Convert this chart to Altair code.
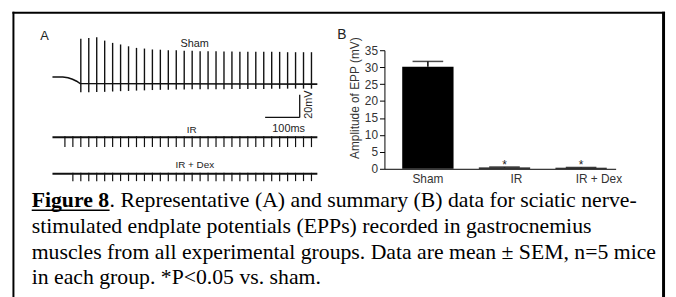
import altair as alt
import pandas as pd

# ---------------- Panel B (summary) ----------------
groups = ["Sham", "IR", "IR + Dex"]
epp_mean = [30.1, 0.4, 0.3]
epp_sem = [1.6, 0.1, 0.1]
sig_star = ["", "*", "*"]
y_ticks = [0, 5, 10, 15, 20, 25, 30, 35]

# ---------------- Panel A (representative traces) ----------------
# Sham: spike times (ms), peaks and troughs (mV, relative to baseline)
sham_spike_t = [82, 105, 128, 151, 174, 197, 220, 243, 266, 289, 312, 335, 358, 381, 404,
                427, 450, 473, 496, 519, 542, 565, 588, 611, 634, 657, 680, 703, 726, 749]
sham_peak_mv = [40.0, 40.6, 41.2, 38.3, 36.3, 34.9, 33.3, 31.9, 31.3, 30.5, 30.3, 29.8, 29.8, 29.4, 29.4,
                29.0, 29.0, 29.0, 28.7, 28.7, 28.5, 28.5, 28.5, 28.4, 28.4, 28.4, 28.1, 28.1, 28.1, 28.1]
sham_trough_mv = [-7.2, -7.2, -7.0, -6.8, -6.5, -6.2, -6.0, -5.7, -5.5, -5.2, -5.0, -4.9, -4.8, -4.7, -4.6,
                  -4.5, -4.5, -4.4, -4.4, -4.3, -4.3, -4.2, -4.2, -4.2, -4.1, -4.1, -4.0, -4.0, -4.0, -4.0]
sham_base_t = [0, 30, 45, 58, 70, 80, 766]
sham_base_mv = [6.3, 6.2, 5.6, 4.3, 2.6, 0.5, 0.0]

# IR: small downward stimulus deflections
ir_tick_t = [36, 59, 82, 105, 128, 151, 174, 197, 220, 243, 266, 289, 312, 335, 358, 381,
             404, 427, 450, 473, 496, 519, 542, 565, 588, 611, 634, 657, 680, 703, 726, 749]
ir_tick_mv = [-8.7, -8.7, -8.7, -8.7, -8.7, -8.7, -8.7, -8.7, -8.7, -8.7, -8.7, -8.7, -8.7, -8.7, -8.7, -8.7,
              -8.7, -8.7, -8.7, -8.7, -8.7, -8.7, -8.7, -8.7, -8.7, -8.7, -8.7, -8.7, -8.7, -8.7, -8.7, -8.7]
ir_base_t = [0, 766]
ir_base_mv = [0.0, 0.0]

# IR + Dex
dex_tick_t = [59, 82, 105, 128, 151, 174, 197, 220, 243, 266, 289, 312, 335, 358, 381, 404,
              427, 450, 473, 496, 519, 542, 565, 588, 611, 634, 657, 680, 703, 726, 749]
dex_tick_mv = [-6.5, -6.5, -6.5, -6.5, -6.5, -6.5, -6.5, -6.5, -6.5, -6.5, -6.5, -6.5, -6.5, -6.5, -6.5, -6.5,
               -6.5, -6.5, -6.5, -6.5, -6.5, -6.5, -6.5, -6.5, -6.5, -6.5, -6.5, -6.5, -6.5, -6.5, -6.5]
dex_base_t = [0, 766]
dex_base_mv = [0.0, 0.0]

# scale bar: 100 ms, 20 mV
scalebar_t = [715, 615]
scalebar_t2 = [715, 715]
scalebar_mv = [-9.3, -29.3]
scalebar_mv2 = [-29.3, -29.3]

caption_lines = [
    "stimulated endplate potentials (EPPs) recorded in gastrocnemius",
    "muscles from all experimental groups. Data are mean \u00b1 SEM, n=5 mice",
    "in each group. *P<0.05 vs. sham.",
]
caption_head = "Figure 8"
caption_first_rest = ". Representative (A) and summary (B) data for sciatic nerve-"

W, H = 668, 289
SANS = "Liberation Sans"
SERIF = "Liberation Serif"
INK = "#111111"

one = pd.DataFrame({"a": [0]})


def label(text, x, y, size, font=SANS, weight="normal", align="center",
          baseline="middle", angle=0, color="#222222"):
    return alt.Chart(pd.DataFrame({"s": [text]})).mark_text(
        font=font, fontSize=size, fontWeight=weight, align=align,
        baseline=baseline, angle=angle, color=color
    ).encode(x=alt.value(x), y=alt.value(y), text="s:N")


def tscale():
    return alt.Scale(domain=[0, 770], range=[45, 314.5])


# ---- Sham trace ----
ys_sham = alt.Scale(domain=[-35, 45], range=[115.55, 23.55])
sham_base = alt.Chart(pd.DataFrame({"t": sham_base_t, "mv": sham_base_mv})).mark_line(
    color=INK, strokeWidth=1.6
).encode(x=alt.X("t:Q", scale=tscale(), axis=None), y=alt.Y("mv:Q", scale=ys_sham, axis=None))
sham_spikes = alt.Chart(pd.DataFrame({"t": sham_spike_t, "peak": sham_peak_mv, "trough": sham_trough_mv})).mark_rule(
    color=INK, strokeWidth=1.4
).encode(x=alt.X("t:Q", scale=tscale(), axis=None),
         y=alt.Y("trough:Q", scale=ys_sham, axis=None), y2="peak:Q")
scalebar = alt.Chart(pd.DataFrame({"t": scalebar_t, "t2": scalebar_t2,
                                   "mv": scalebar_mv, "mv2": scalebar_mv2})).mark_rule(
    color=INK, strokeWidth=1.3
).encode(x=alt.X("t:Q", scale=tscale(), axis=None), x2="t2:Q",
         y=alt.Y("mv:Q", scale=ys_sham, axis=None), y2="mv2:Q")
sham_layer = alt.layer(sham_base, sham_spikes, scalebar)

# ---- IR trace ----
ys_ir = alt.Scale(domain=[-20, 20], range=[152, 106])
ir_base = alt.Chart(pd.DataFrame({"t": ir_base_t, "mv": ir_base_mv})).mark_line(
    color=INK, strokeWidth=2
).encode(x=alt.X("t:Q", scale=tscale(), axis=None), y=alt.Y("mv:Q", scale=ys_ir, axis=None))
ir_ticks = alt.Chart(pd.DataFrame({"t": ir_tick_t, "lo": ir_tick_mv, "hi": [0.8] * len(ir_tick_t)})).mark_rule(
    color=INK, strokeWidth=1.2
).encode(x=alt.X("t:Q", scale=tscale(), axis=None),
         y=alt.Y("lo:Q", scale=ys_ir, axis=None), y2="hi:Q")
ir_layer = alt.layer(ir_base, ir_ticks)

# ---- IR + Dex trace ----
ys_dex = alt.Scale(domain=[-20, 20], range=[189, 143])
dex_base = alt.Chart(pd.DataFrame({"t": dex_base_t, "mv": dex_base_mv})).mark_line(
    color=INK, strokeWidth=2
).encode(x=alt.X("t:Q", scale=tscale(), axis=None), y=alt.Y("mv:Q", scale=ys_dex, axis=None))
dex_ticks = alt.Chart(pd.DataFrame({"t": dex_tick_t, "lo": dex_tick_mv, "hi": [0.8] * len(dex_tick_t)})).mark_rule(
    color=INK, strokeWidth=1.2
).encode(x=alt.X("t:Q", scale=tscale(), axis=None),
         y=alt.Y("lo:Q", scale=ys_dex, axis=None), y2="hi:Q")
dex_layer = alt.layer(dex_base, dex_ticks)

# ---- Panel B bar chart ----
bdf = pd.DataFrame({"group": groups, "mean": epp_mean, "sem": epp_sem, "star": sig_star})
bdf["top"] = bdf["mean"] + bdf["sem"]

xs_b = alt.Scale(domain=groups, range=[381, 615], paddingInner=0.33, paddingOuter=0.174, align=0.667)
ys_b = alt.Scale(domain=[0, 35], range=[161, 41])
x_axis_b = alt.Axis(
    title=None, ticks=False, labelAngle=0, labelFont=SANS, labelFontSize=12, labelColor="#333333",
    labelPadding=5, domainColor="#000000", domainWidth=1, offset=-(H - 161),
    labelOffset={"condition": [{"test": "datum.value == 'IR'", "value": 12},
                               {"test": "datum.value == 'IR + Dex'", "value": 18}], "value": 0},
)
y_axis_b = alt.Axis(
    title="Amplitude of EPP (mV)", values=y_ticks, grid=False, tickSize=5, tickColor="#000000",
    tickWidth=1, labelFont=SANS, labelFontSize=12, labelColor="#333333", labelPadding=2,
    domainColor="#000000", domainWidth=1, offset=-381,
    titleFont=SANS, titleFontSize=12, titleFontWeight="normal", titleColor="#333333",
    titleX=-30, titleY=89, titleAngle=270, titleAlign="center", titleBaseline="middle",
)
bars = alt.Chart(bdf).mark_bar(color="#000000").encode(
    x=alt.X("group:N", scale=xs_b, axis=x_axis_b, sort=groups),
    y=alt.Y("mean:Q", scale=ys_b, axis=y_axis_b),
)
err_rule = alt.Chart(bdf).mark_rule(color="#000000", strokeWidth=1.5).encode(
    x=alt.X("group:N", scale=xs_b, axis=x_axis_b, sort=groups),
    y=alt.Y("mean:Q", scale=ys_b, axis=y_axis_b), y2="top:Q",
)
err_cap = alt.Chart(bdf).mark_tick(color="#000000", size=31, thickness=1.5).encode(
    x=alt.X("group:N", scale=xs_b, axis=x_axis_b, sort=groups),
    y=alt.Y("top:Q", scale=ys_b, axis=y_axis_b),
)
stars = alt.Chart(bdf).mark_text(font=SANS, fontSize=12, color="#222222", baseline="alphabetic", dy=2).encode(
    x=alt.X("group:N", scale=xs_b, axis=x_axis_b, sort=groups),
    y=alt.Y("top:Q", scale=ys_b, axis=y_axis_b),
    text="star:N",
)
bar_layer = alt.layer(bars, err_rule, err_cap, stars)

# ---- frame ----
frame_top = alt.Chart(one).mark_rule(color="#000000", strokeWidth=2).encode(
    x=alt.value(4.5), x2=alt.value(665), y=alt.value(3), y2=alt.value(3))
frame_left = alt.Chart(one).mark_rule(color="#000000", strokeWidth=2).encode(
    x=alt.value(5.5), x2=alt.value(5.5), y=alt.value(2), y2=alt.value(300))
frame_right = alt.Chart(one).mark_rule(color="#000000", strokeWidth=3).encode(
    x=alt.value(663.5), x2=alt.value(663.5), y=alt.value(2), y2=alt.value(300))

# ---- labels ----
texts = [
    label("A", 37, 27, 13),
    label("B", 338, 26, 14),
    label("Sham", 189, 35, 11),
    label("IR", 186, 122, 10),
    label("IR + Dex", 189, 157, 10),
    label("100ms", 284, 121, 11),
    label("20mV", 305, 96, 11, angle=270),
]

# ---- caption ----
cap_x = 24
cap = [
    label(caption_head, cap_x, 200, 22, font=SERIF, weight="bold", align="left",
          baseline="alphabetic", color="#000000"),
    label(caption_first_rest, cap_x + 78.8, 200, 22, font=SERIF, align="left",
          baseline="alphabetic", color="#000000"),
    alt.Chart(one).mark_rule(color="#000000", strokeWidth=1.5).encode(
        x=alt.value(cap_x), x2=alt.value(cap_x + 78.8), y=alt.value(203), y2=alt.value(203)),
]
for i, line in enumerate(caption_lines):
    cap.append(label(line, cap_x, 226 + 26 * i, 22, font=SERIF, align="left",
                     baseline="alphabetic", color="#000000"))

chart = alt.layer(
    frame_top, frame_left, frame_right,
    sham_layer, ir_layer, dex_layer, bar_layer,
    *texts, *cap,
).resolve_scale(x="independent", y="independent").properties(
    width=W, height=H, autosize=alt.AutoSizeParams(type="none"), padding=0
).configure_view(stroke=None)

chart.save("out.html", embed_options={"renderer": "svg", "actions": False})
